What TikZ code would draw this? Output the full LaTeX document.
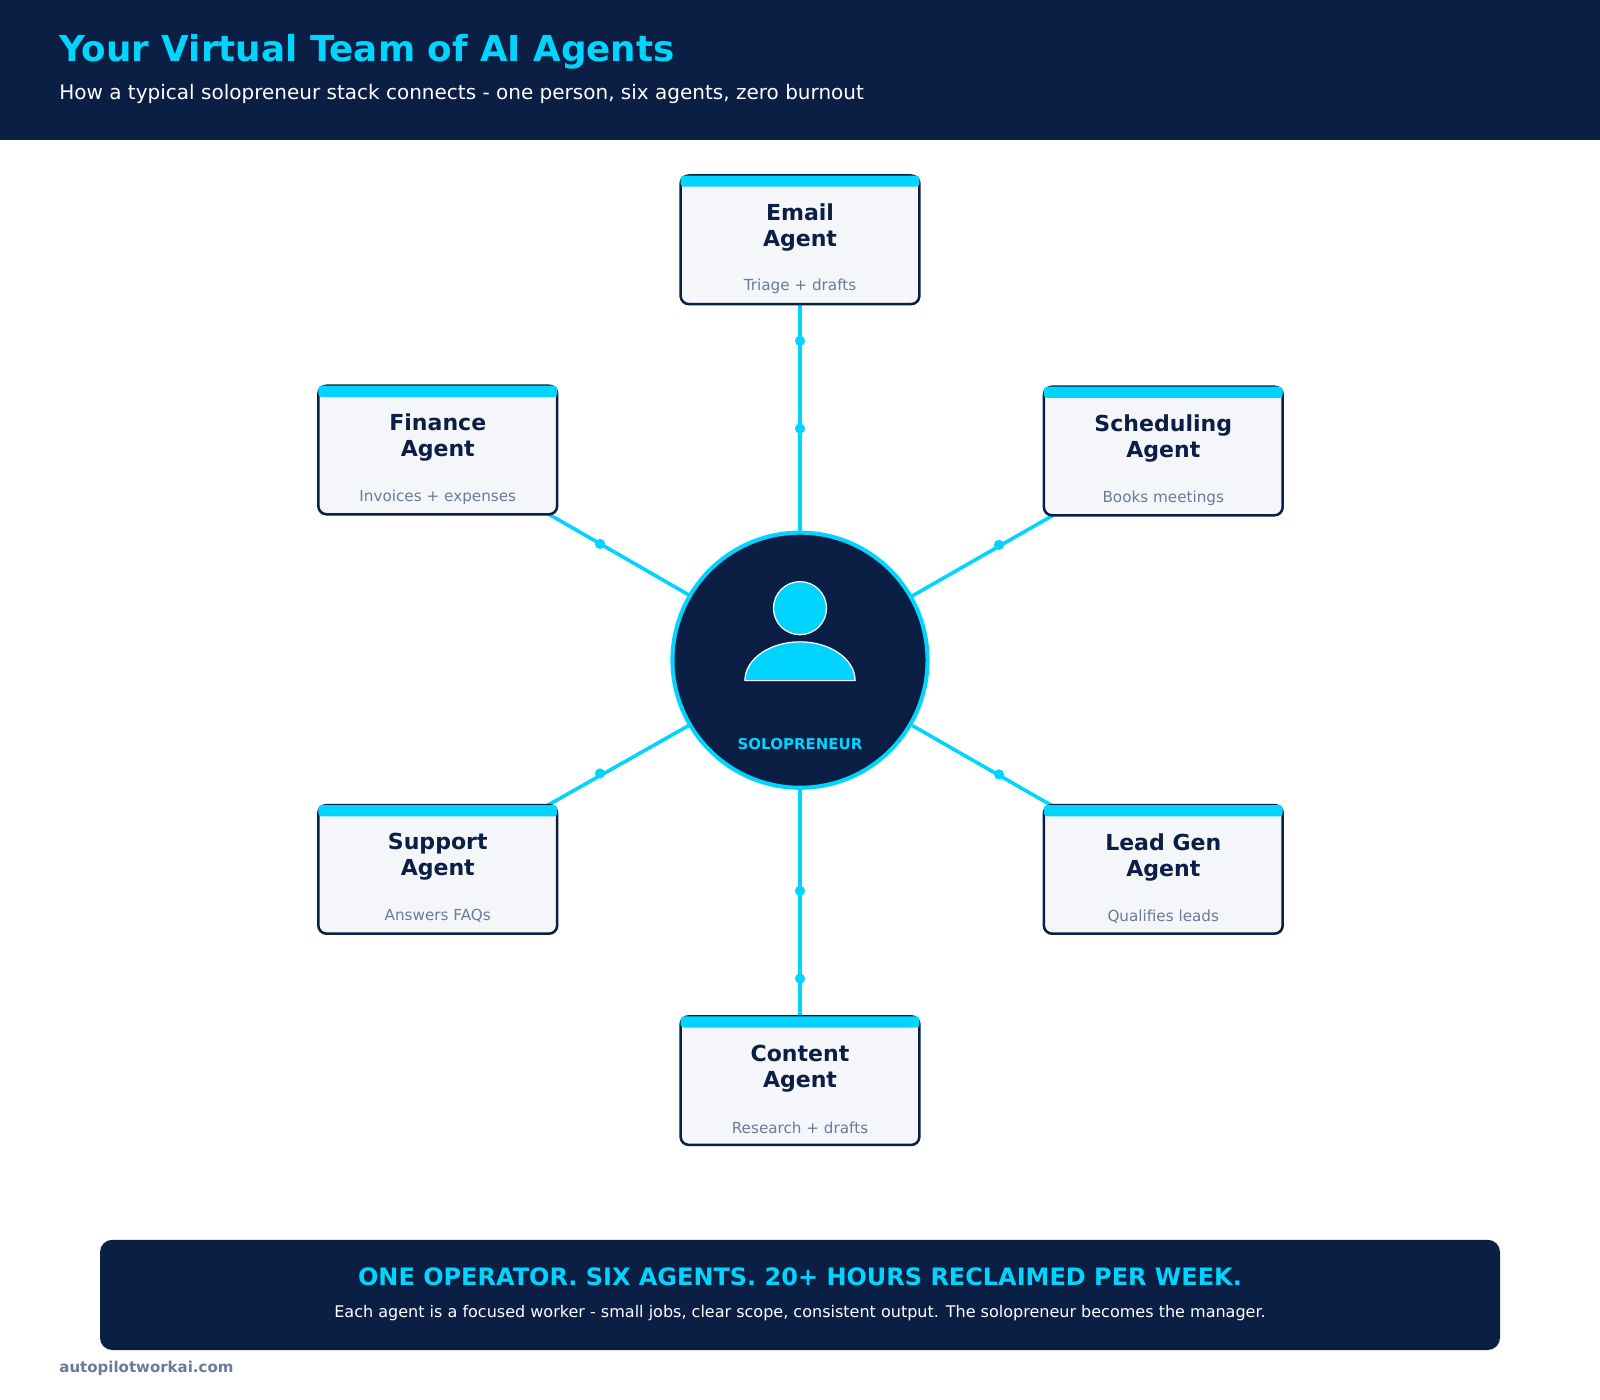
\documentclass[tikz,border=0pt]{standalone}
\usepackage{fontspec}
\setmainfont{DejaVu Sans}
\definecolor{navy}{HTML}{0B1F44}
\definecolor{cyanx}{HTML}{00D4FF}
\definecolor{paper}{HTML}{F4F6FA}
\definecolor{slate}{HTML}{6B7A99}
\tikzset{
  agent/.style={draw=navy,line width=2.5pt,fill=paper,rounded corners=8pt},
  bar/.style={fill=cyanx,rounded corners=3pt},
  link/.style={draw=cyanx,line width=3.5pt},
  dot/.style={circle,fill=cyanx,inner sep=0pt,minimum size=10pt},
  atitle/.style={font=\fontsize{21.6}{25.5}\selectfont\bfseries,text=navy,align=center},
  asub/.style={font=\fontsize{14.9}{17}\selectfont,text=slate}
}
% one agent card: centre x, top y, name, line 1, line 2, duty
\newcommand{\agentcard}[6]{
  \path[agent] (#1-117,#2) rectangle (#1+117,#2+126);
  \path[bar] (#1-117,#2) rectangle (#1+117,#2+11);
  \node[atitle] (#3) at (#1,#2+51) {#4\\#5};
  \node[asub] (#3-duty) at (#1,#2+109) {#6};
}
\begin{document}
\begin{tikzpicture}[x=1pt,y=-1pt]
\useasboundingbox (0,0) rectangle (1568,1372);
\fill[white] (0,0) rectangle (1568,1372);

% header
\fill[navy] (0,0) rectangle (1568,137);
\node[anchor=west,inner sep=0pt,text=cyanx,font=\fontsize{35}{40}\selectfont\bfseries] (title) at (58,51) {Your Virtual Team of AI Agents};
\node[anchor=west,inner sep=0pt,text=white,font=\fontsize{19.6}{23}\selectfont] (subtitle) at (58,92) {How a typical solopreneur stack connects - one person, six agents, zero burnout};

% spokes
\coordinate (e1) at (784,298); \coordinate (e2) at (784,522);
\coordinate (c1) at (784,772); \coordinate (c2) at (784,996);
\coordinate (f1) at (538,504); \coordinate (f2) at (675,583);
\coordinate (s1) at (1032,505); \coordinate (s2) at (894,584);
\coordinate (u1) at (537,789); \coordinate (u2) at (675,711);
\coordinate (l1) at (1030,789); \coordinate (l2) at (894,711);
\foreach \a/\b in {e1/e2,c1/c2,f1/f2,s1/s2,u1/u2,l1/l2}
  \draw[link] (\a) -- (\b);
\foreach \p in {(784,334),(784,420),(784,873),(784,959),(588,533),(979,534),(588,758),(979,759)}
  \node[dot] at \p {};

% hub
\node[circle,draw=cyanx,line width=4pt,fill=navy,minimum size=250pt,inner sep=0pt] (hub) at (784,647) {};
\draw[white,line width=1.2pt,fill=cyanx] (784,596) circle (26);
\draw[white,line width=1.2pt,fill=cyanx] (730,667) arc[start angle=180,end angle=0,x radius=54,y radius=-38] -- cycle;
\node[text=cyanx,font=\fontsize{14.7}{17}\selectfont\bfseries] (role) at (784,729) {SOLOPRENEUR};

% agents
\agentcard{784}{172}{email}{Email}{Agent}{Triage + drafts}
\agentcard{429}{378}{finance}{Finance}{Agent}{Invoices + expenses}
\agentcard{1140}{379}{sched}{Scheduling}{Agent}{Books meetings}
\agentcard{429}{789}{support}{Support}{Agent}{Answers FAQs}
\agentcard{1140}{789}{leads}{Lead Gen}{Agent}{Qualifies leads}
\agentcard{784}{996}{content}{Content}{Agent}{Research + drafts}

% footer
\fill[navy,rounded corners=12pt] (98,1215) rectangle (1470,1323);
\node[text=cyanx,font=\fontsize{23.5}{27}\selectfont\bfseries] (banner) at (784,1251) {ONE OPERATOR. SIX AGENTS. 20+ HOURS RECLAIMED PER WEEK.};
\node[text=white,font=\fontsize{15.7}{18}\selectfont] (bannersub) at (784,1287) {Each agent is a focused worker - small jobs, clear scope, consistent output. The solopreneur becomes the manager.};
\node[anchor=west,inner sep=0pt,text=slate,font=\fontsize{14.7}{17}\selectfont\bfseries] (site) at (58,1341) {autopilotworkai.com};
\end{tikzpicture}
\end{document}
